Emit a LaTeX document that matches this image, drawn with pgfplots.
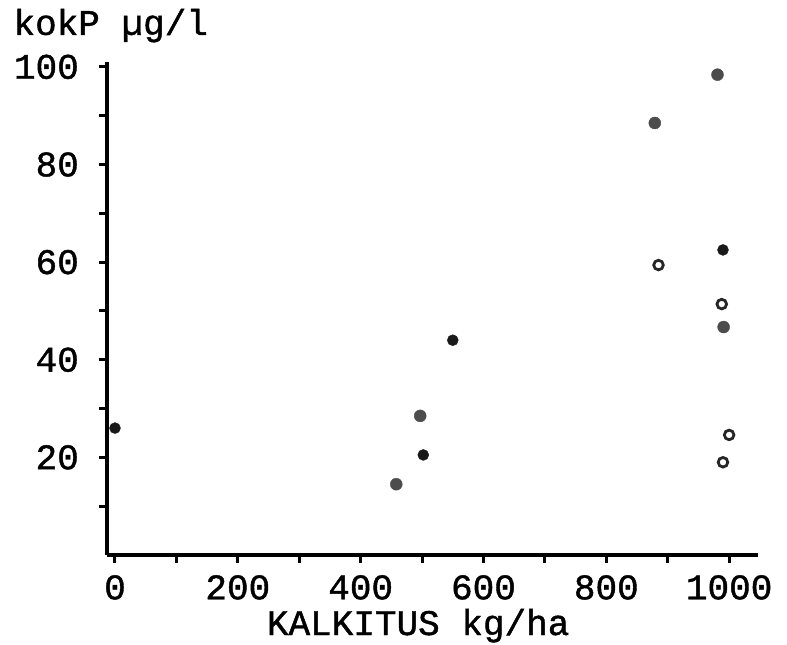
\documentclass[border=0pt]{standalone}
\usepackage{pgfplots}
\pgfplotsset{compat=1.18}
\usepackage{fontspec}
\setmainfont{Liberation Mono}
\newfontfamily\tw{Liberation Mono}[FakeBold=1.2]
\begin{document}
\begin{tikzpicture}
\path[use as bounding box] (0,0) rectangle (787pt,645pt);
\begin{axis}[
  at={(107pt,90pt)}, anchor=south west,
  scale only axis, width=651pt, height=493pt,
  xmin=-13, xmax=1047, ymin=0, ymax=101,
  axis lines=left,
  axis line style={-, line width=3.2pt, black},
  every outer x axis line/.append style={line width=3.2pt},
  every outer y axis line/.append style={line width=3.2pt},
  xtick={0,100,...,1000},
  xticklabels={0,,200,,400,,600,,800,,1000},
  ytick={10,20,...,100},
  yticklabels={,20,,40,,60,,80,,100},
  tick align=outside,
  major tick length=8pt,
  every tick/.style={line width=3pt, black},
  ticklabel style={font=\tw\fontsize{36}{40}\selectfont, inner sep=2pt},
  /pgf/number format/assume math mode=true,
  xticklabel style={yshift=-10pt},
  yticklabel style={xshift=-18pt},
  xlabel={KALKITUS kg/ha},
  ylabel={kokP µg/l},
  every axis x label/.style={at={(axis description cs:0.478,0)}, anchor=base, yshift=-80pt, font=\tw\fontsize{36}{40}\selectfont},
  every axis y label/.style={at={(axis description cs:-0.149,1.055)}, anchor=base west, font=\tw\fontsize{36}{40}\selectfont},
  clip=false,
]
\addplot[only marks, mark=*, mark size=5.5pt, color=black!90] coordinates {
  (0,26) (502,20.5) (550,44) (990,62.5)
};
\addplot[only marks, mark=*, mark size=6pt, color=black!70] coordinates {
  (458,14.5) (879,88.5) (981,98.4) (991,46.7) (497,28.5)
};
\addplot[only marks, mark=o, mark size=4.8pt, line width=2.8pt, color=black!85] coordinates {
  (885,59.4) (988,51.4) (1000,24.6) (990,19)
};
\end{axis}
\end{tikzpicture}
\end{document}
